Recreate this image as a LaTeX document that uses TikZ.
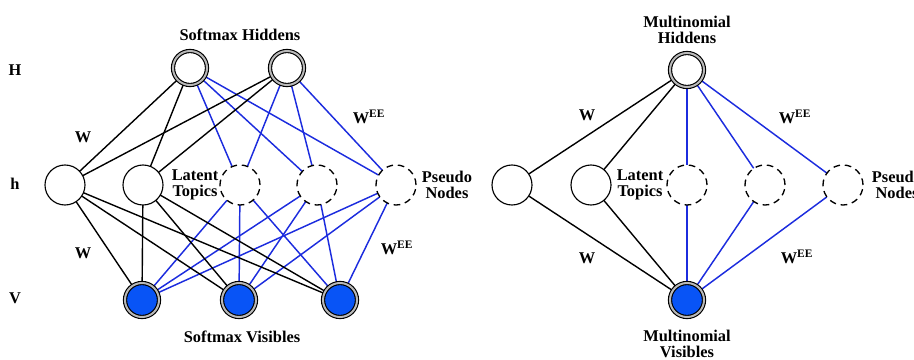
\documentclass[tikz,border=0pt]{standalone}
\usepackage{fontspec}
\setmainfont{Liberation Serif}
\usetikzlibrary{backgrounds}
\definecolor{linkblue}{RGB}{28,44,222}
\definecolor{unitblue}{RGB}{8,84,246}
\definecolor{ringgray}{RGB}{185,185,185}
\begin{document}
\begin{tikzpicture}[x=0.75pt,y=-0.75pt,
  font=\fontsize{12.3}{13.5}\selectfont\bfseries,
  every node/.style={inner sep=0pt,outer sep=0pt},
  ringunit/.style={circle,draw=black,line width=0.85pt,double=ringgray,double distance=1.5pt,minimum size=25.5pt,fill=white},
  visunit/.style={ringunit,fill=unitblue},
  plainunit/.style={circle,draw=black,line width=0.85pt,minimum size=30pt,fill=white},
  dashunit/.style={circle,draw=black,line width=1pt,dash pattern=on 5pt off 3.6pt,minimum size=30pt,fill=white},
  tagtext/.style={align=center},
  blk/.style={draw=black,line width=1.05pt},
  blu/.style={draw=linkblue,line width=1.1pt}]
\useasboundingbox (0,0) rectangle (914,360);

% layer letters
\node (labH) at (15,70) {H};
\node (labh) at (15,184) {h};
\node (labv) at (15,298) {V};

% ---- softmax model ----
\node[tagtext] (sh) at (240,35) {Softmax Hiddens};
\node[ringunit] (H1) at (190,68) {};
\node[ringunit] (H2) at (287,68) {};
\node[plainunit] (h1) at (65,185) {};
\node[plainunit] (h2) at (143,185) {};
\node[dashunit] (d1) at (240,185) {};
\node[dashunit] (d2) at (317,185) {};
\node[dashunit] (d3) at (396,185) {};
\node[visunit] (v1) at (142,300) {};
\node[visunit] (v2) at (239,300) {};
\node[visunit] (v3) at (340,300) {};
\node[tagtext] (lt) at (195,185) {Latent\\[-1.5pt]Topics};
\node[tagtext] (pn) at (447,185) {Pseudo\\[-1.5pt]Nodes};
\node[tagtext] (sv) at (242,337) {Softmax Visibles};
\node (w1) at (83,137) {W};
\node (w2) at (83,253) {W};
\node (we1) at (369,117) {W\textsuperscript{EE}};
\node (we2) at (397,248) {W\textsuperscript{EE}};

% ---- multinomial model ----
\node[tagtext] (mh) at (687,30) {Multinomial\\[-1.5pt]Hiddens};
\node[ringunit] (M) at (687,70) {};
\node[plainunit] (r1) at (512,185) {};
\node[plainunit] (r2) at (591,185) {};
\node[dashunit] (e1) at (687,185) {};
\node[dashunit] (e2) at (765,185) {};
\node[dashunit] (e3) at (843,185) {};
\node[visunit] (N) at (687,300) {};
\node[tagtext] (lt2) at (640,185) {Latent\\[-1.5pt]Topics};
\node[tagtext] (pn2) at (897,185) {Pseudo\\[-1.5pt]Nodes};
\node[tagtext] (mv) at (687,344) {Multinomial\\[-1.5pt]Visibles};
\node (w3) at (587,115) {W};
\node (w4) at (587,258) {W};
\node (we3) at (795,117) {W\textsuperscript{EE}};
\node (we4) at (797,257) {W\textsuperscript{EE}};

\begin{scope}[on background layer]
  % hidden layer to latent topics / pseudo nodes
  \foreach \t in {H1,H2} {
    \foreach \s in {h1,h2} \draw[blk] (\t) -- (\s);
    \foreach \s in {d1,d2,d3} \draw[blu] (\t) -- (\s);
  }
  % latent topics / pseudo nodes to visible layer
  \foreach \b in {v1,v2,v3} {
    \foreach \s in {h1,h2} \draw[blk] (\s) -- (\b);
    \foreach \s in {d1,d2,d3} \draw[blu] (\s) -- (\b);
  }
  \foreach \t in {M,N} {
    \foreach \s in {r1,r2} \draw[blk] (\t) -- (\s);
    \foreach \s in {e1,e2,e3} \draw[blu] (\t) -- (\s);
  }
\end{scope}
\end{tikzpicture}
\end{document}
